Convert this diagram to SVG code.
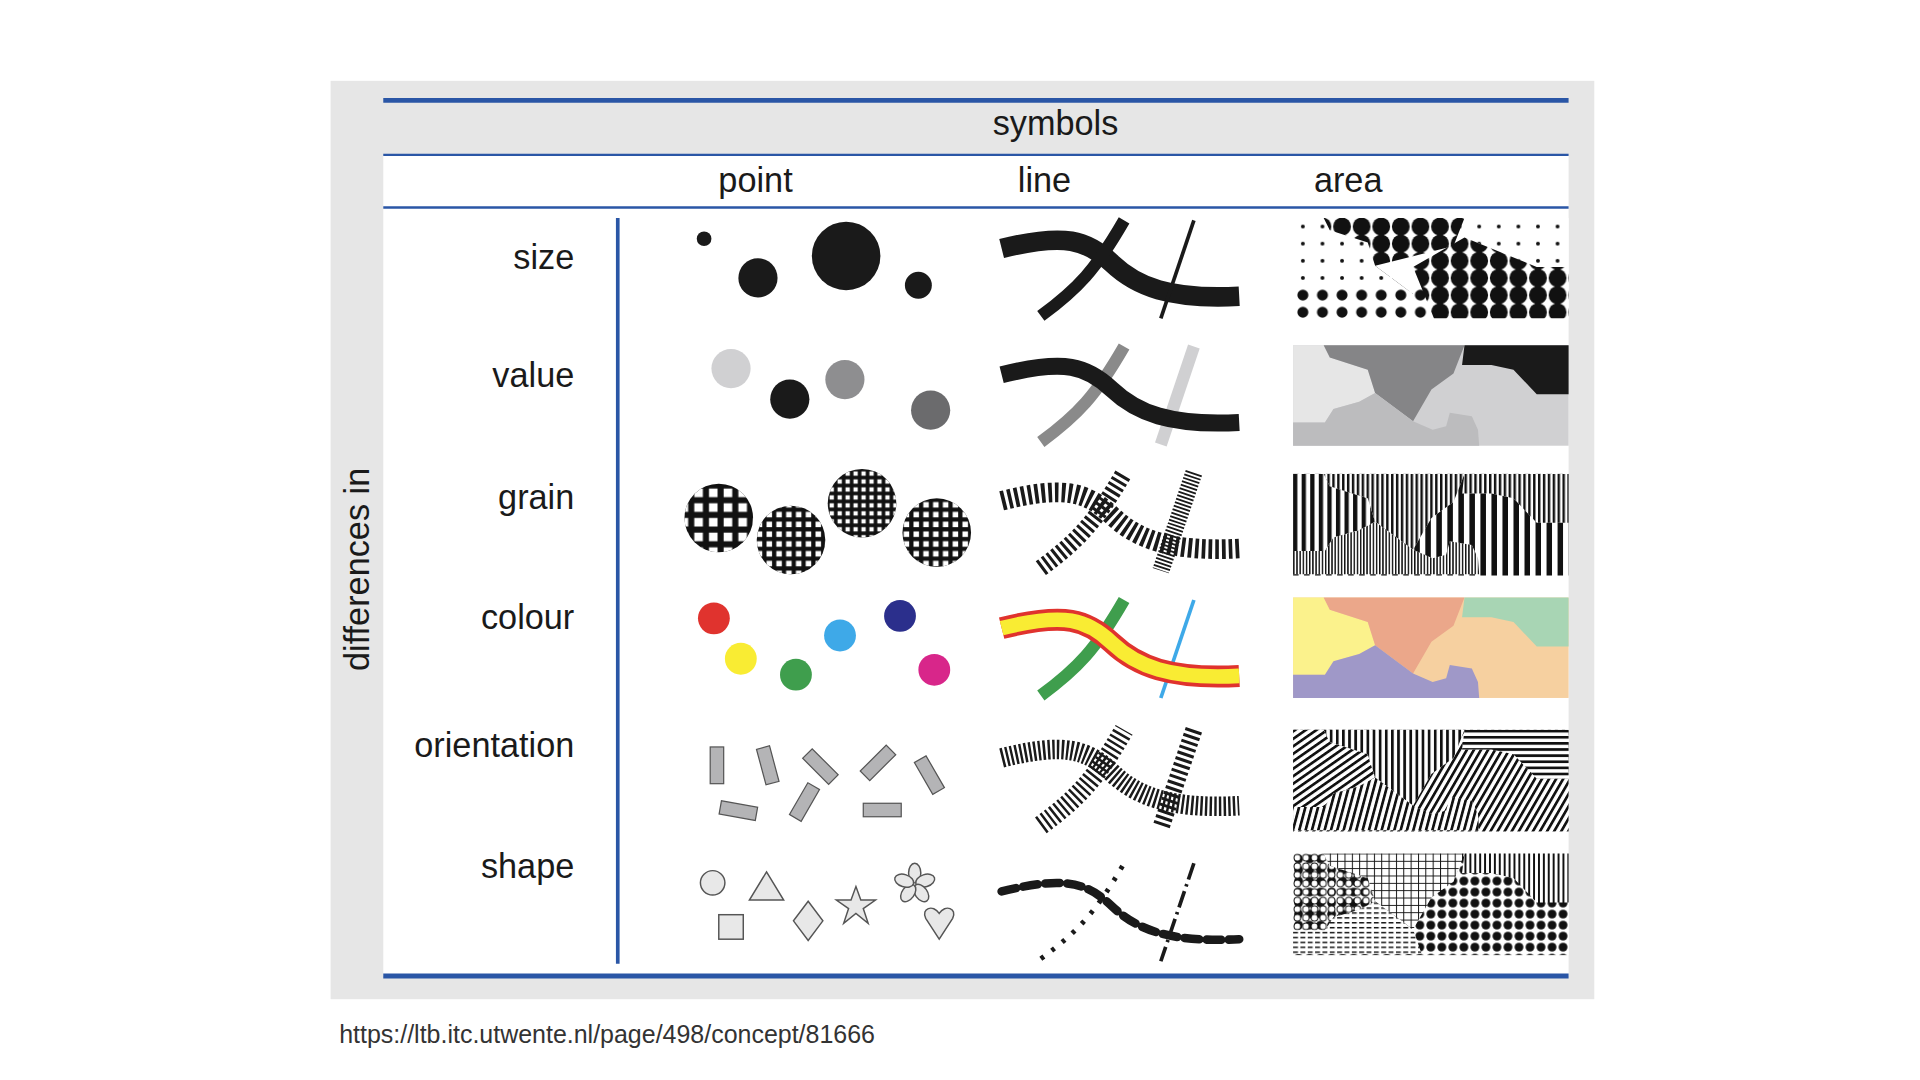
<svg xmlns="http://www.w3.org/2000/svg" width="1920" height="1080" viewBox="0 0 1920 1080">
<style>
text{font-family:"Liberation Sans",Arial,sans-serif;fill:#1a1a1a}
.hd{font-size:28px}
.rl{font-size:28px;text-anchor:end}
.blue{stroke:#2a56a6;fill:none}
.pt{fill:#1a1a1a}
.og{fill:#b4b4b6;stroke:#555;stroke-width:1}
.sh{fill:#e8e8e8;stroke:#555;stroke-width:1.2}
</style>
<defs>
<path id="Lm" d="M818,203 C870,190 888,196 908,215 S955,245 1012,242"/>
<path id="Lc" d="M850,258 C880,236 895,220 918,180"/>
<path id="Ls" d="M975,180 L948,260"/>
<pattern id="gA" width="12" height="12" patternUnits="userSpaceOnUse"><rect x="3" y="3" width="7" height="7" fill="#fff"/></pattern>
<pattern id="gB" width="8" height="8" patternUnits="userSpaceOnUse"><rect x="2" y="2" width="4.5" height="4.5" fill="#fff"/></pattern>
<pattern id="gC" width="6.5" height="6.5" patternUnits="userSpaceOnUse"><rect x="1.5" y="1.5" width="3.5" height="3.5" fill="#fff"/></pattern>
<pattern id="dS" width="16" height="14" patternUnits="userSpaceOnUse"><circle cx="8" cy="7" r="1.6" fill="#111"/></pattern>
<pattern id="dM" width="16" height="14" patternUnits="userSpaceOnUse"><circle cx="8" cy="7" r="4.5" fill="#111"/></pattern>
<pattern id="dL" width="16" height="14" patternUnits="userSpaceOnUse"><circle cx="8" cy="7" r="7.3" fill="#111"/></pattern>
<pattern id="sv1" width="7" height="10" patternUnits="userSpaceOnUse"><rect width="3.5" height="10" fill="#111"/></pattern>
<pattern id="sv2" width="4" height="10" patternUnits="userSpaceOnUse"><rect width="2" height="10" fill="#111"/></pattern>
<pattern id="sv3" width="2.6" height="10" patternUnits="userSpaceOnUse"><rect width="1.2" height="10" fill="#111"/></pattern>
<pattern id="sv4" width="9" height="10" patternUnits="userSpaceOnUse"><rect width="4.5" height="10" fill="#111"/></pattern>
<pattern id="o1" width="5" height="5" patternUnits="userSpaceOnUse" patternTransform="rotate(-35)"><rect width="5" height="2.2" fill="#111"/></pattern>
<pattern id="o2" width="5" height="5" patternUnits="userSpaceOnUse"><rect width="2.2" height="5" fill="#111"/></pattern>
<pattern id="o3" width="5" height="5" patternUnits="userSpaceOnUse"><rect width="5" height="2.2" fill="#111"/></pattern>
<pattern id="o4" width="5" height="5" patternUnits="userSpaceOnUse" patternTransform="rotate(30)"><rect width="2.2" height="5" fill="#111"/></pattern>
<pattern id="o5" width="5" height="5" patternUnits="userSpaceOnUse" patternTransform="rotate(15)"><rect width="2.2" height="5" fill="#111"/></pattern>
<pattern id="p1" width="7" height="7" patternUnits="userSpaceOnUse"><circle cx="3.5" cy="3.5" r="2.7" fill="#fff" stroke="#111" stroke-width="0.8"/></pattern>
<pattern id="p2" width="6" height="6" patternUnits="userSpaceOnUse"><rect width="6" height="6" fill="#fff"/><path d="M0,0.4H6M0.4,0V6" stroke="#111" stroke-width="0.8"/></pattern>
<pattern id="p3" width="4" height="6" patternUnits="userSpaceOnUse"><rect width="4" height="6" fill="#fff"/><rect width="1.6" height="6" fill="#111"/></pattern>
<pattern id="p4" width="9" height="9" patternUnits="userSpaceOnUse"><rect width="9" height="9" fill="#fff"/><circle cx="4.5" cy="4.5" r="3.6" fill="#111"/></pattern>
<pattern id="p5" width="6" height="4" patternUnits="userSpaceOnUse"><rect width="6" height="4" fill="#fff"/><rect width="4" height="1.2" fill="#111"/></pattern>
<g id="rL"><path d="M0,0H25L30,10L61,20L67,39L54,46L33,52L26,63H0Z"/></g>
<g id="rD"><path d="M25,0H140L131,23L113,36L98,62L67,39L61,20L30,10Z"/></g>
<g id="rB"><path d="M140,0H225V40H199L180,20L162,16H138Z"/></g>
<g id="rM"><path d="M0,63H26L33,52L54,46L67,39L98,62L114,69L125,66L128,55L146,58L151,69L152,82H0Z"/></g>
</defs>
<g transform="scale(1.2245)">
<rect x="270" y="66" width="1032" height="750" fill="#e6e6e6"/>
<rect x="313" y="127" width="968" height="670" fill="#fff"/>
<g id="frame">
<line class="blue" x1="313" y1="82" x2="1281" y2="82" stroke-width="4"/>
<line class="blue" x1="313" y1="126.5" x2="1281" y2="126.5" stroke-width="2"/>
<line class="blue" x1="313" y1="169.5" x2="1281" y2="169.5" stroke-width="2"/>
<line class="blue" x1="313" y1="797" x2="1281" y2="797" stroke-width="4"/>
<line class="blue" x1="504.5" y1="178" x2="504.5" y2="787" stroke-width="3"/>
</g>
<g id="headers">
<text class="hd" x="862" y="110" text-anchor="middle">symbols</text>
<text class="hd" x="617" y="157" text-anchor="middle">point</text>
<text class="hd" x="853" y="157" text-anchor="middle">line</text>
<text class="hd" x="1101" y="157" text-anchor="middle">area</text>
<text class="hd" transform="translate(301,465) rotate(-90)" text-anchor="middle">differences in</text>
</g>
<g id="labels">
<text class="rl" x="469" y="220">size</text>
<text class="rl" x="469" y="316">value</text>
<text class="rl" x="469" y="416">grain</text>
<text class="rl" x="469" y="514">colour</text>
<text class="rl" x="469" y="618">orientation</text>
<text class="rl" x="469" y="717">shape</text>
</g>
<g id="point-size" class="pt"><circle cx="575" cy="195" r="6"/><circle cx="619" cy="227" r="16"/><circle cx="691" cy="209" r="28"/><circle cx="750" cy="233" r="11"/></g>
<g id="point-value"><circle cx="597" cy="301" r="16" fill="#d0d0d2"/><circle cx="645" cy="326" r="16" fill="#1a1a1a"/><circle cx="690" cy="310" r="16" fill="#8e8e90"/><circle cx="760" cy="335" r="16" fill="#6b6b6d"/></g>
<g id="point-grain">
<circle cx="587" cy="423" r="28" fill="#111"/><circle cx="587" cy="423" r="28" fill="url(#gA)"/>
<circle cx="646" cy="441" r="28" fill="#111"/><circle cx="646" cy="441" r="28" fill="url(#gB)"/>
<circle cx="704" cy="411" r="28" fill="#111"/><circle cx="704" cy="411" r="28" fill="url(#gC)"/>
<circle cx="765" cy="435" r="28" fill="#111"/><circle cx="765" cy="435" r="28" fill="url(#gB)"/>
</g>
<g id="point-colour"><circle cx="583" cy="505" r="13" fill="#e0332e"/><circle cx="605" cy="538" r="13" fill="#f9ec33"/><circle cx="650" cy="551" r="13" fill="#3f9e4d"/><circle cx="686" cy="519" r="13" fill="#3ea9e8"/><circle cx="735" cy="503" r="13" fill="#2b2f8c"/><circle cx="763" cy="547" r="13" fill="#d8268a"/></g>
<g id="point-orientation">
<rect class="og" x="580" y="610" width="11" height="30"/>
<rect class="og" x="-5.5" y="-15" width="11" height="30" transform="translate(627,625) rotate(-15)"/>
<rect class="og" x="-5.5" y="-15" width="11" height="30" transform="translate(670,626) rotate(-45)"/>
<rect class="og" x="-5.5" y="-15" width="11" height="30" transform="translate(717,623) rotate(45)"/>
<rect class="og" x="-5.5" y="-15" width="11" height="30" transform="translate(759,633) rotate(-30)"/>
<rect class="og" x="-15" y="-5.5" width="30" height="11" transform="translate(603,662) rotate(10)"/>
<rect class="og" x="-5.5" y="-15" width="11" height="30" transform="translate(657,655) rotate(30)"/>
<rect class="og" x="705" y="656" width="31" height="11"/>
</g>
<g id="point-shape">
<circle class="sh" cx="582" cy="721" r="10"/>
<polygon class="sh" points="626,712 640,735 612,735"/>
<rect class="sh" x="587" y="747" width="20" height="20"/>
<polygon class="sh" points="660,736 672,752 660,768 648,752"/>
<polygon class="sh" points="699,724 703,735 715,735 705,742 709,754 699,746 689,754 693,742 683,735 695,735"/>
<g class="sh"><ellipse cx="747" cy="713" rx="5" ry="8"/><ellipse cx="747" cy="713" rx="5" ry="8" transform="rotate(72 747 722)"/><ellipse cx="747" cy="713" rx="5" ry="8" transform="rotate(144 747 722)"/><ellipse cx="747" cy="713" rx="5" ry="8" transform="rotate(216 747 722)"/><ellipse cx="747" cy="713" rx="5" ry="8" transform="rotate(288 747 722)"/></g>
<path class="sh" d="M767,767 L756,750 C752,742 762,738 767,746 C772,738 782,742 778,750 Z"/>
</g>
<g id="connectors" fill="none">
<g id="line-size" stroke="#1a1a1a"><use href="#Lm" stroke-width="16"/><use href="#Lc" stroke-width="10"/><use href="#Ls" stroke-width="3"/></g>
<g id="line-value" transform="translate(0,103)"><use href="#Lc" stroke="#8a8a8a" stroke-width="10"/><use href="#Ls" stroke="#d0d0d2" stroke-width="10"/><use href="#Lm" stroke="#1a1a1a" stroke-width="14"/></g>
<g id="line-grain" transform="translate(0,206)" stroke="#1a1a1a"><use href="#Lm" stroke-width="16" stroke-dasharray="3,2.5"/><use href="#Lc" stroke-width="14" stroke-dasharray="2.5,2.5"/><use href="#Ls" stroke-width="14" stroke-dasharray="1.5,1.5"/></g>
<g id="line-colour" transform="translate(0,310)"><use href="#Lc" stroke="#3f9e4d" stroke-width="10"/><use href="#Ls" stroke="#3ea9e8" stroke-width="3"/><use href="#Lm" stroke="#e0332e" stroke-width="18"/><use href="#Lm" stroke="#f9ec33" stroke-width="12"/></g>
<g id="line-orientation" transform="translate(0,416)" stroke="#1a1a1a"><use href="#Lm" stroke-width="16" stroke-dasharray="2,1.8"/><use href="#Lc" stroke-width="16" stroke-dasharray="2,2.5"/><use href="#Ls" stroke-width="14" stroke-dasharray="2.5,2.5"/></g>
<g id="line-shape" transform="translate(0,525)" stroke="#1a1a1a"><use href="#Lm" stroke-width="7" stroke-dasharray="12,6" stroke-linecap="round"/><use href="#Lc" stroke-width="4" stroke-dasharray="3,8"/><use href="#Ls" stroke-width="3" stroke-dasharray="14,4,2,4"/></g>
</g>
<g id="area-size" transform="translate(1056,178)">
<rect width="225" height="82" fill="url(#dS)"/>
<use href="#rD" fill="url(#dL)"/><use href="#rB" fill="#fff"/><use href="#rB" fill="url(#dS)"/>
<path d="M98,62L67,39L131,23L140,16L199,40H225V82H0V68H152Z" fill="#fff"/>
<path d="M98,40L140,16L199,40H225V82H115Z" fill="url(#dL)"/>
<path d="M0,54H115L120,82H0Z" fill="url(#dM)"/>
</g>
<g id="area-value" transform="translate(1056,282)">
<rect width="225" height="82" fill="#d0d0d2"/>
<use href="#rL" fill="#e6e6e6"/><use href="#rD" fill="#858587"/><use href="#rB" fill="#1a1a1a"/><use href="#rM" fill="#bcbcbe"/>
</g>
<g id="area-grain" transform="translate(1056,387)">
<rect width="225" height="83" fill="#fff"/>
<rect width="225" height="83" fill="url(#sv4)"/>
<use href="#rL" fill="#fff"/><use href="#rL" fill="url(#sv1)"/>
<use href="#rD" fill="#fff"/><use href="#rD" fill="url(#sv2)"/>
<use href="#rB" fill="#fff"/><use href="#rB" fill="url(#sv2)"/>
<use href="#rM" fill="#fff"/><use href="#rM" fill="url(#sv3)"/>
</g>
<g id="area-colour" transform="translate(1056,488)">
<rect width="225" height="82" fill="#f6d0a0"/>
<use href="#rL" fill="#fbf28c"/><use href="#rD" fill="#eba78a"/><use href="#rB" fill="#a8d5b4"/><use href="#rM" fill="#9f98c8"/>
</g>
<g id="area-orientation" transform="translate(1056,596)">
<rect width="225" height="83" fill="#fff"/>
<rect width="225" height="83" fill="url(#o4)"/>
<use href="#rL" fill="#fff"/><use href="#rL" fill="url(#o1)"/>
<use href="#rD" fill="#fff"/><use href="#rD" fill="url(#o2)"/>
<use href="#rB" fill="#fff"/><use href="#rB" fill="url(#o3)"/>
<use href="#rM" fill="#fff"/><use href="#rM" fill="url(#o5)"/>
</g>
<g id="area-shape" transform="translate(1056,697)">
<rect width="225" height="83" fill="url(#p4)"/>
<use href="#rL" fill="url(#p1)"/><use href="#rD" fill="url(#p2)"/><use href="#rB" fill="url(#p3)"/>
<path d="M0,63H26L33,52L54,46L67,39L98,62L105,82H0Z" fill="url(#p5)"/>
</g>
<text x="277" y="852" font-size="20.4" style="fill:#333">https://ltb.itc.utwente.nl/page/498/concept/81666</text>
</g>
</svg>
